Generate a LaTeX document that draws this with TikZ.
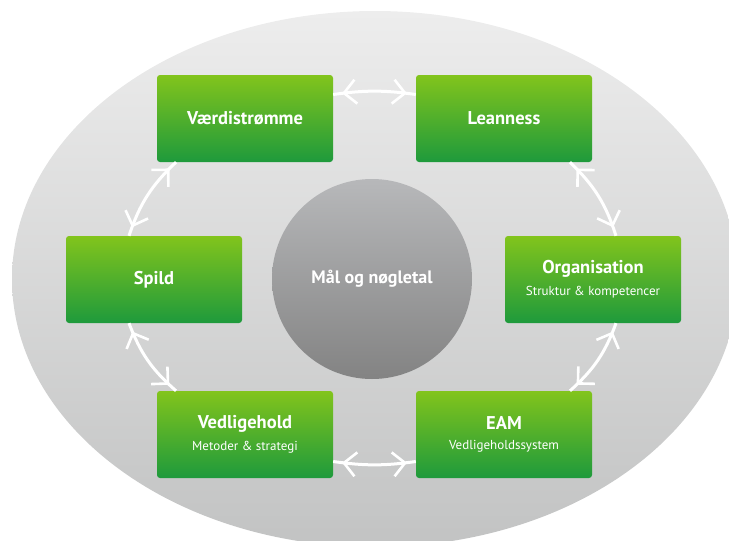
\documentclass[tikz,border=0pt]{standalone}
\usepackage{fontspec}
\setmainfont{PT Sans}
\usetikzlibrary{arrows.meta,decorations.markings}
\definecolor{fieldtop}{HTML}{82C41C}
\definecolor{fieldbot}{HTML}{1E9A3C}
\definecolor{ringtop}{HTML}{EDEDED}
\definecolor{ringbot}{HTML}{C2C3C3}
\definecolor{hubtop}{HTML}{B7B8BA}
\definecolor{hubbot}{HTML}{838383}
\newcommand{\fieldtitle}[1]{{\fontsize{18.5}{21}\selectfont\bfseries #1}}
\newcommand{\fieldsub}[1]{{\fontsize{13}{15}\selectfont #1}}
\tikzset{
  field/.style={rectangle, rounded corners=3pt, minimum width=176pt, minimum height=87pt,
    inner sep=0pt, top color=fieldtop, bottom color=fieldbot, text=white, align=center},
  hub/.style={circle, minimum size=200pt, inner sep=0pt, top color=hubtop, bottom color=hubbot,
    text=white, font=\fontsize{18}{21}\selectfont\bfseries},
  barb/.tip={Straight Barb[length=12pt, width=24pt, line width=2.6pt]},
  link/.style={draw=white, line width=3pt, postaction={decorate},
    decoration={markings,
      mark=at position 9pt with {\arrowreversed{barb}},
      mark=at position -9pt with {\arrow{barb}}}}
}
\begin{document}
\begin{tikzpicture}[x=1pt, y=-1pt]
  \useasboundingbox (0,0) rectangle (729,541);
  \clip (0,0) rectangle (729,541);
  % background ring
  \path[top color=ringtop, bottom color=ringbot] (375,279) ellipse [x radius=363, y radius=268];

  \node[hub] (mal) at (372,279) {Mål og nøgletal};

  \node[field] (vaerdi) at (245,118.5) {\fieldtitle{Værdistrømme}};
  \node[field] (lean)   at (504,118.5) {\fieldtitle{Leanness}};
  \node[field] (spild)  at (154,279.5) {\fieldtitle{Spild}};
  \node[field] (org)    at (593,279.5) {\fieldtitle{Organisation}\\[8pt]\fieldsub{Struktur \& kompetencer}};
  \node[field] (vedl)   at (245,434.5) {\fieldtitle{Vedligehold}\\[8pt]\fieldsub{Metoder \& strategi}};
  \node[field] (eam)    at (504,434.5) {\fieldtitle{EAM}\\[8pt]\fieldsub{Vedligeholdssystem}};

  % double arrows round the ring
  \draw[link] ([yshift=24pt]vaerdi.east) to[bend left=8] ([yshift=24pt]lean.west);
  \draw[link] ([xshift=66pt]lean.south) to[bend left=14] ([xshift=23pt]org.north);
  \draw[link] ([xshift=23pt]org.south) to[bend left=14] ([xshift=66pt]eam.north);
  \draw[link] ([yshift=-27pt]eam.west) to[bend left=8] ([yshift=-27pt]vedl.east);
  \draw[link] ([xshift=-69pt]vedl.north) to[bend left=14] ([xshift=-25pt]spild.south);
  \draw[link] ([xshift=-25pt]spild.north) to[bend left=14] ([xshift=-69pt]vaerdi.south);
\end{tikzpicture}
\end{document}
